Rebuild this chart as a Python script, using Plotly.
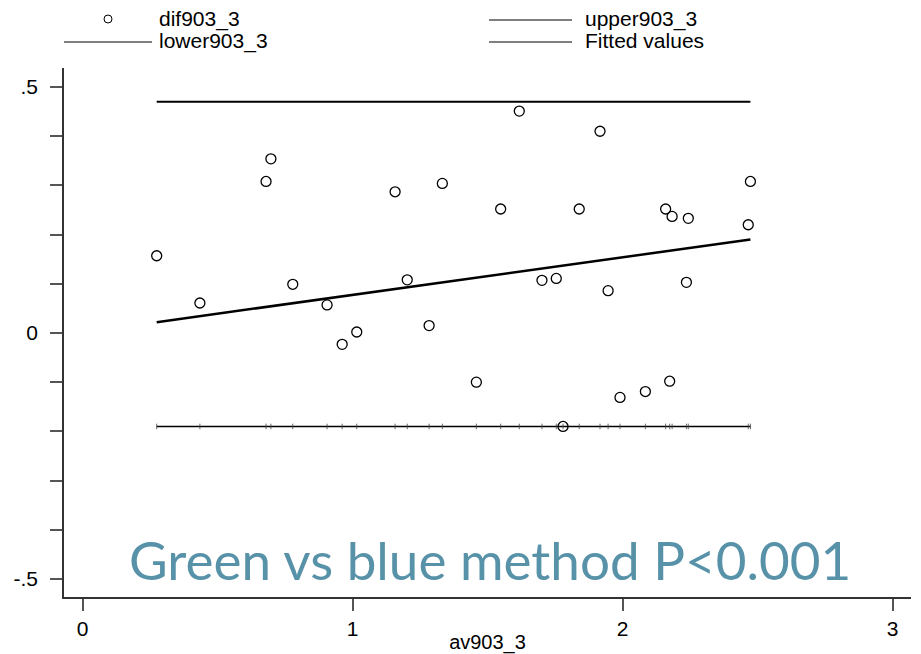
import plotly.graph_objects as go

# ---- data ----
av903_3 = [0.274, 0.434, 0.679, 0.697, 0.778, 0.905, 0.961, 1.015, 1.157, 1.202,
           1.283, 1.332, 1.458, 1.548, 1.617, 1.701, 1.754, 1.779, 1.839, 1.916,
           1.946, 1.990, 2.084, 2.159, 2.174, 2.183, 2.243, 2.236, 2.465, 2.473]
dif903_3 = [0.157, 0.061, 0.308, 0.354, 0.099, 0.057, -0.023, 0.002, 0.287, 0.108,
            0.015, 0.304, -0.100, 0.252, 0.451, 0.107, 0.111, -0.190, 0.252, 0.410,
            0.086, -0.131, -0.119, 0.252, -0.098, 0.237, 0.233, 0.103, 0.220, 0.308]
upper903_3 = 0.470
lower903_3 = -0.190
fit_x = [0.274, 2.473]
fit_y = [0.022, 0.190]

y_tickvals = [-0.5, -0.4, -0.3, -0.2, -0.1, 0.0, 0.1, 0.2, 0.3, 0.4, 0.5]
y_ticktext = ["-.5", "", "", "", "", "0", "", "", "", "", ".5"]
x_tickvals = [0, 1, 2, 3]
x_ticktext = ["0", "1", "2", "3"]

legend_labels = ["dif903_3", "upper903_3", "lower903_3", "Fitted values"]
annotation_text = "Green vs blue method P<0.001"

# ---- figure ----
W, H = 921, 654
L, R, T, B = 64, 10, 68, 57
pw, ph = W - L - R, H - T - B

xs = sorted(av903_3)

fig = go.Figure()
fig.add_trace(go.Scatter(x=[xs[0], xs[-1]], y=[upper903_3, upper903_3], mode="lines",
                         line=dict(color="black", width=2.2), name=legend_labels[1],
                         showlegend=False))
fig.add_trace(go.Scatter(x=xs, y=[lower903_3] * len(xs), mode="lines+markers",
                         line=dict(color="black", width=1.5),
                         marker=dict(symbol="line-ns", size=4, color="black",
                                     line=dict(color="#444444", width=0.8)),
                         name=legend_labels[2], showlegend=False))
fig.add_trace(go.Scatter(x=fit_x, y=fit_y, mode="lines",
                         line=dict(color="black", width=2.5), name=legend_labels[3],
                         showlegend=False))
fig.add_trace(go.Scatter(x=av903_3, y=dif903_3, mode="markers",
                         marker=dict(symbol="circle-open", size=10, color="black",
                                     line=dict(color="black", width=1.3)),
                         name=legend_labels[0], showlegend=False))


def px_x(p):
    return (p - L) / pw


def px_y(p):
    return (H - B - p) / ph


shapes = []
annotations = []
# legend: circle marker
cx, cy, r = 108, 19, 4
shapes.append(dict(type="circle", xref="paper", yref="paper",
                   x0=px_x(cx - r), x1=px_x(cx + r), y0=px_y(cy + r), y1=px_y(cy - r),
                   line=dict(color="black", width=1)))
# legend lines
for (x0, x1, yy) in [(489, 572, 20), (64, 152, 42), (489, 572, 42)]:
    shapes.append(dict(type="line", xref="paper", yref="paper",
                       x0=px_x(x0), x1=px_x(x1), y0=px_y(yy), y1=px_y(yy),
                       line=dict(color="black", width=1)))
for (lab, tx, ty) in [(legend_labels[0], 157, 19), (legend_labels[1], 583, 19),
                      (legend_labels[2], 157, 41), (legend_labels[3], 583, 41)]:
    annotations.append(dict(text=lab, xref="paper", yref="paper", x=px_x(tx), y=px_y(ty),
                            xanchor="left", yanchor="middle", showarrow=False,
                            font=dict(family="Liberation Sans", size=21, color="black")))

annotations.append(dict(text=annotation_text, xref="x", yref="y", x=1.51, y=-0.46,
                        xanchor="center", yanchor="middle", showarrow=False,
                        font=dict(family="Lato", size=53, color="#5892a9")))

fig.update_layout(
    width=W, height=H,
    margin=dict(l=L, r=R, t=T, b=B, autoexpand=False),
    paper_bgcolor="white", plot_bgcolor="white",
    shapes=shapes, annotations=annotations,
    font=dict(family="Liberation Sans", size=21, color="black"),
    xaxis=dict(range=[-0.0693, 3.0678], tickvals=x_tickvals, ticktext=x_ticktext,
               showgrid=False, zeroline=False, showline=True, linecolor="#333333",
               linewidth=1.5, ticks="outside", ticklen=12, tickwidth=1.5,
               tickcolor="#555555", tickfont=dict(size=21),
               title=dict(text="av903_3", font=dict(size=20), standoff=2)),
    yaxis=dict(range=[-0.5366, 0.5386], tickvals=y_tickvals, ticktext=y_ticktext,
               showgrid=False, zeroline=False, showline=True, linecolor="#333333",
               linewidth=1.5, ticks="outside", ticklen=12, tickwidth=1.5,
               tickcolor="#555555", tickfont=dict(size=21), ticklabelstandoff=8),
)

fig.write_html("out.html", config={"displayModeBar": False},
               post_script="document.body.style.margin='0';document.body.style.padding='0';")
